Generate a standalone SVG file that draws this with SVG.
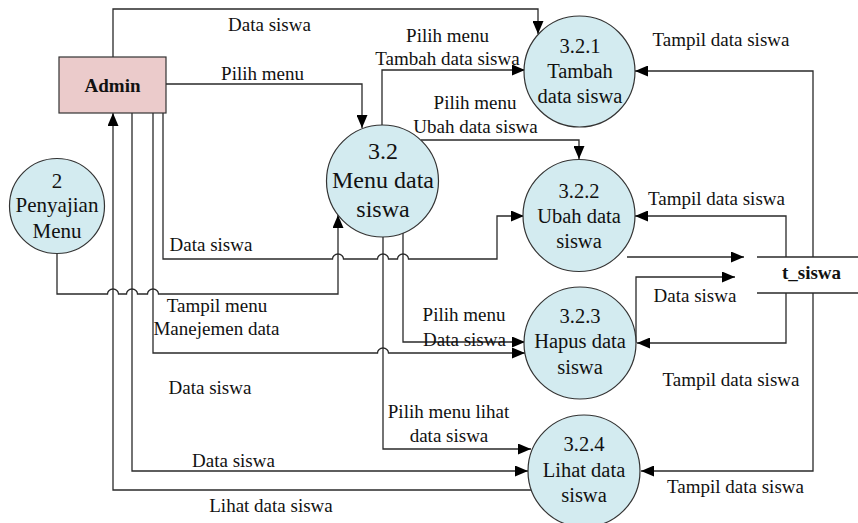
<svg xmlns="http://www.w3.org/2000/svg" width="858" height="523" viewBox="0 0 858 523">
<style>
  text { font-family: "Liberation Serif", "Times New Roman", serif; fill: #111; text-anchor: middle; }
  .lbl { font-size: 19px; }
  .ent { font-size: 19px; font-weight: bold; }
  .pt { font-size: 20.5px; }
  .pm { font-size: 24px; }
  .proc { fill: #D3EBF0; stroke: #333; stroke-width: 1.2; }
  .entity { fill: #EBCBCB; stroke: #333; stroke-width: 1.2; }
  .ln { fill: none; stroke: #2a2a2a; stroke-width: 1.3; }
  .arr { fill: none; stroke: #2a2a2a; stroke-width: 1.3; marker-end: url(#ah); }
</style>
<defs>
  <marker id="ah" markerUnits="userSpaceOnUse" markerWidth="13" markerHeight="11" refX="13" refY="5.5" orient="auto">
    <path d="M0,0 L13,5.5 L0,11 z" fill="#000"/>
  </marker>
</defs>
<rect width="858" height="523" fill="#fff"/>

<g id="connectors">
  <!-- Admin top -> 3.2.1 -->
  <path class="arr" d="M113,57 V9 H538 V34"/>
  <!-- Admin -> 3.2 Pilih menu -->
  <path class="arr" d="M166,84 H362 V128"/>
  <!-- 3.2 -> 3.2.1 -->
  <path class="arr" d="M382,125 V70 H525"/>
  <!-- 3.2 -> 3.2.2 -->
  <path class="arr" d="M421,140 H579 V159"/>
  <!-- 3.2 -> 3.2.3 -->
  <path class="arr" d="M403,233 V342 H525"/>
  <!-- 3.2 -> 3.2.4 -->
  <path class="arr" d="M383,237 V449 H531"/>
  <!-- Admin -> 3.2.2 (Data siswa) with hops -->
  <path class="arr" d="M163,113 V259 H332.5 A5.5,5 0 0 1 343.5,259 H377.5 A5.5,5 0 0 1 388.5,259 H397.5 A5.5,5 0 0 1 408.5,259 H497 V216 H524"/>
  <!-- Admin -> 3.2.3 with hop -->
  <path class="arr" d="M153,113 V353 H377.5 A5.5,5 0 0 1 388.5,353 H525"/>
  <!-- Penyajian -> 3.2 with hops -->
  <path class="arr" d="M57,254 V294 H107.5 A5.5,5 0 0 1 118.5,294 H126.5 A5.5,5 0 0 1 137.5,294 H147.5 A5.5,5 0 0 1 158.5,294 H338 V215"/>
  <!-- Admin -> 3.2.4 -->
  <path class="arr" d="M132,113 V471 H528"/>
  <!-- 3.2.4 -> Admin -->
  <path class="arr" d="M531,490 H113 V113"/>
  <!-- t_siswa -> 3.2.1 -->
  <path class="arr" d="M813,257 V71 H635"/>
  <!-- t_siswa -> 3.2.2 -->
  <path class="arr" d="M786,257 V216 H635"/>
  <!-- 3.2.2 -> t_siswa -->
  <path class="arr" d="M627,257 H744"/>
  <!-- 3.2.3 -> t_siswa -->
  <path class="arr" d="M636,343 V277 H735"/>
  <!-- t_siswa -> 3.2.3 -->
  <path class="arr" d="M786,293 V343 H637"/>
  <!-- t_siswa -> 3.2.4 -->
  <path class="arr" d="M813,293 V471 H641"/>

  <!-- labels -->
  <text class="lbl" x="269.5" y="31">Data siswa</text>
  <text class="lbl" x="262.5" y="80">Pilih menu</text>
  <text class="lbl" x="447.5" y="42">Pilih menu</text>
  <text class="lbl" x="447.5" y="65">Tambah data siswa</text>
  <text class="lbl" x="475" y="109">Pilih menu</text>
  <text class="lbl" x="475.5" y="133">Ubah data siswa</text>
  <text class="lbl" x="721" y="46">Tampil data siswa</text>
  <text class="lbl" x="716.5" y="205">Tampil data siswa</text>
  <text class="lbl" x="695" y="302">Data siswa</text>
  <text class="lbl" x="211" y="251">Data siswa</text>
  <text class="lbl" x="217" y="312">Tampil menu</text>
  <text class="lbl" x="216.5" y="335">Manejemen data</text>
  <text class="lbl" x="464" y="321">Pilih menu</text>
  <text class="lbl" x="464.5" y="346">Data siswa</text>
  <text class="lbl" x="210" y="394">Data siswa</text>
  <text class="lbl" x="233.5" y="467">Data siswa</text>
  <text class="lbl" x="271" y="512">Lihat data siswa</text>
  <text class="lbl" x="448.5" y="418">Pilih menu lihat</text>
  <text class="lbl" x="449" y="442">data siswa</text>
  <text class="lbl" x="731" y="386">Tampil data siswa</text>
  <text class="lbl" x="735.5" y="493">Tampil data siswa</text>
</g>

<g id="admin">
  <rect class="entity" x="59" y="57" width="107" height="56"/>
  <text class="ent" x="112.5" y="91.5">Admin</text>
</g>

<g id="t_siswa">
  <path class="ln" d="M757,257 H858 M757,293 H858"/>
  <text class="ent" x="811.5" y="279">t_siswa</text>
</g>

<g id="p2">
  <circle class="proc" cx="57" cy="206" r="47.5"/>
  <text class="pt" x="57" y="188" style="font-size:21px">2</text>
  <text class="pt" x="57" y="212" style="font-size:21px">Penyajian</text>
  <text class="pt" x="57" y="238" style="font-size:21px">Menu</text>
</g>

<g id="p3_2">
  <circle class="proc" cx="382.5" cy="181" r="56"/>
  <text class="pm" x="383" y="159">3.2</text>
  <text class="pm" x="383" y="188">Menu data</text>
  <text class="pm" x="383" y="217">siswa</text>
</g>

<g id="p3_2_1">
  <circle class="proc" cx="579.5" cy="71.5" r="55.5"/>
  <text class="pt" x="580" y="53">3.2.1</text>
  <text class="pt" x="580" y="78">Tambah</text>
  <text class="pt" x="580" y="103">data siswa</text>
</g>

<g id="p3_2_2">
  <circle class="proc" cx="579" cy="215.5" r="56"/>
  <text class="pt" x="579" y="198">3.2.2</text>
  <text class="pt" x="579" y="223">Ubah data</text>
  <text class="pt" x="579" y="248">siswa</text>
</g>

<g id="p3_2_3">
  <circle class="proc" cx="580" cy="343" r="56"/>
  <text class="pt" x="580" y="323">3.2.3</text>
  <text class="pt" x="580" y="348">Hapus data</text>
  <text class="pt" x="580" y="374">siswa</text>
</g>

<g id="p3_2_4">
  <circle class="proc" cx="584" cy="471" r="56"/>
  <text class="pt" x="584" y="451">3.2.4</text>
  <text class="pt" x="584" y="477">Lihat data</text>
  <text class="pt" x="584" y="502">siswa</text>
</g>
</svg>
